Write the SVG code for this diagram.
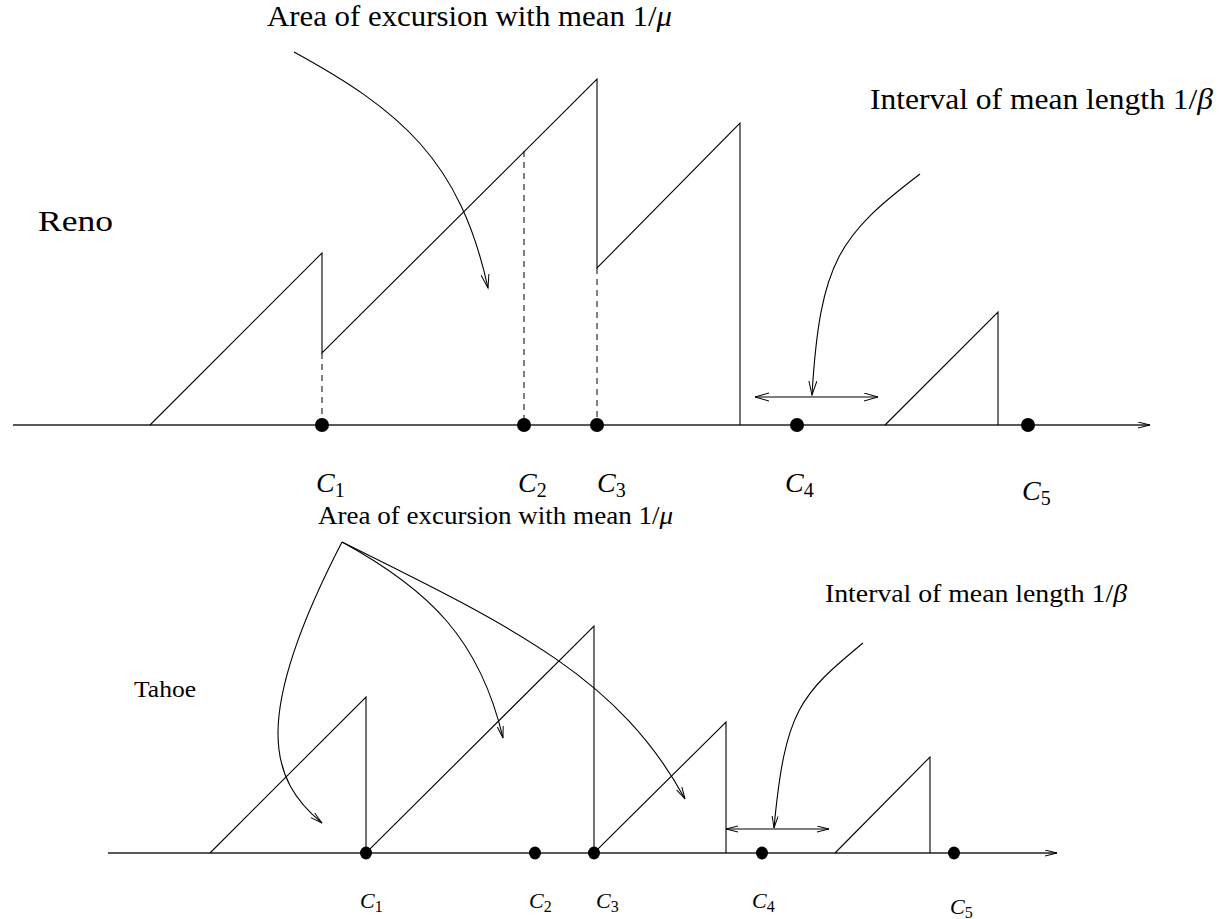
<svg xmlns="http://www.w3.org/2000/svg" width="1230" height="919" viewBox="0 0 1230 919">
<style>
  .ln{fill:none;stroke:#000;stroke-width:1.1}
  .ax{fill:none;stroke:#222;stroke-width:1.3}
  .dash{fill:none;stroke:#000;stroke-width:1;stroke-dasharray:6,5}
  .dot{fill:#000}
  .t{font-family:"Liberation Serif","DejaVu Serif",serif;fill:#000}
  .it{font-style:italic}
  .cL{font-family:"Liberation Serif","DejaVu Serif",serif;font-style:italic;font-size:28px;fill:#000}
  .cS{font-family:"Liberation Serif","DejaVu Serif",serif;font-style:italic;font-size:22px;fill:#000}
  .sub{font-style:normal}
</style>
<defs>
  <marker id="ah" markerUnits="userSpaceOnUse" markerWidth="16" markerHeight="10" viewBox="0 0 16 10" refX="14" refY="4.5" orient="auto-start-reverse">
    <path d="M0,0.5 L14,4.5 L0,8.5" fill="none" stroke="#000" stroke-width="1"/>
  </marker>
  <marker id="ahs" markerUnits="userSpaceOnUse" markerWidth="13" markerHeight="8" viewBox="0 0 13 8" refX="12" refY="3.5" orient="auto-start-reverse">
    <path d="M0,0.5 L12,3.5 L0,6.5" fill="none" stroke="#000" stroke-width="1"/>
  </marker>
</defs>

<g id="reno">
  <text class="t" x="38" y="231" font-size="30" textLength="75" lengthAdjust="spacingAndGlyphs">Reno</text>
  <path id="reno-axis" class="ax" d="M13,425 H1150" marker-end="url(#ahs)"/>
  <path id="reno-sawtooth" class="ln" d="M150,425 L322,253 L322,353 L597,79 L597,268 L740,123 L740,425"/>
  <path id="reno-triangle" class="ln" d="M885,425 L998,312 L998,425"/>
  <path class="dash" d="M322,353 V425 M524,151 V425 M597,268 V425"/>
  <g id="reno-dots">
    <circle class="dot" cx="322" cy="425" r="7"/>
    <circle class="dot" cx="524" cy="425" r="7"/>
    <circle class="dot" cx="597" cy="425" r="7"/>
    <circle class="dot" cx="797" cy="425" r="7"/>
    <circle class="dot" cx="1028" cy="425" r="7"/>
  </g>
  <g id="reno-c-labels">
    <text class="cL" x="316" y="492">C<tspan class="sub" font-size="20" dy="5">1</tspan></text>
    <text class="cL" x="518" y="492">C<tspan class="sub" font-size="20" dy="5">2</tspan></text>
    <text class="cL" x="597" y="492">C<tspan class="sub" font-size="20" dy="5">3</tspan></text>
    <text class="cL" x="785" y="492">C<tspan class="sub" font-size="20" dy="5">4</tspan></text>
    <text class="cL" x="1022" y="500">C<tspan class="sub" font-size="20" dy="5">5</tspan></text>
  </g>
  <text id="reno-area-label" class="t" x="267" y="26" font-size="29" textLength="405" lengthAdjust="spacingAndGlyphs">Area of excursion with mean 1/<tspan class="it">μ</tspan></text>
  <text id="reno-interval-label" class="t" x="870" y="109" font-size="29" textLength="343" lengthAdjust="spacingAndGlyphs">Interval of mean length 1/<tspan class="it">β</tspan></text>
</g>

<g id="tahoe">
  <text class="t" x="134" y="697" font-size="24" textLength="62" lengthAdjust="spacingAndGlyphs">Tahoe</text>
  <path id="tahoe-axis" class="ax" d="M108,853 H1057" marker-end="url(#ahs)"/>
  <path id="tahoe-sawtooth" class="ln" d="M210,853 L366,697 L366,853 L594,626 L594,853 L726,722 L726,853"/>
  <path id="tahoe-triangle" class="ln" d="M835,853 L930,757 L930,853"/>
  <g id="tahoe-dots">
    <ellipse class="dot" cx="366" cy="853" rx="6" ry="6.5"/>
    <ellipse class="dot" cx="535" cy="853" rx="6" ry="6.5"/>
    <ellipse class="dot" cx="594" cy="853" rx="6" ry="6.5"/>
    <ellipse class="dot" cx="762" cy="853" rx="6" ry="6.5"/>
    <ellipse class="dot" cx="954" cy="853" rx="6" ry="6.5"/>
  </g>
  <g id="tahoe-c-labels">
    <text class="cS" x="360" y="908">C<tspan class="sub" font-size="16" dy="4">1</tspan></text>
    <text class="cS" x="529" y="908">C<tspan class="sub" font-size="16" dy="4">2</tspan></text>
    <text class="cS" x="596" y="908">C<tspan class="sub" font-size="16" dy="4">3</tspan></text>
    <text class="cS" x="752" y="908">C<tspan class="sub" font-size="16" dy="4">4</tspan></text>
    <text class="cS" x="950" y="914">C<tspan class="sub" font-size="16" dy="4">5</tspan></text>
  </g>
  <text id="tahoe-area-label" class="t" x="318" y="524" font-size="25" textLength="355" lengthAdjust="spacingAndGlyphs">Area of excursion with mean 1/<tspan class="it">μ</tspan></text>
  <text id="tahoe-interval-label" class="t" x="825" y="602" font-size="25" textLength="302" lengthAdjust="spacingAndGlyphs">Interval of mean length 1/<tspan class="it">β</tspan></text>
</g>

<g id="connectors">
  <path class="ln" d="M294,52 C400,110 460,160 488,288" marker-end="url(#ah)"/>
  <path class="ln" d="M920,174 C840,235 820,260 812,395" marker-end="url(#ah)"/>
  <path class="ln" d="M755,397 H878" marker-start="url(#ah)" marker-end="url(#ah)"/>
  <path class="ln" d="M342,542 C250,720 270,780 322,823" marker-end="url(#ahs)"/>
  <path class="ln" d="M342,542 C430,590 480,640 503,738" marker-end="url(#ahs)"/>
  <path class="ln" d="M342,542 C520,630 620,680 685,799" marker-end="url(#ahs)"/>
  <path class="ln" d="M863,643 C800,695 785,710 774,828" marker-end="url(#ahs)"/>
  <path class="ln" d="M726,829 H829" marker-start="url(#ahs)" marker-end="url(#ahs)"/>
</g>
</svg>
